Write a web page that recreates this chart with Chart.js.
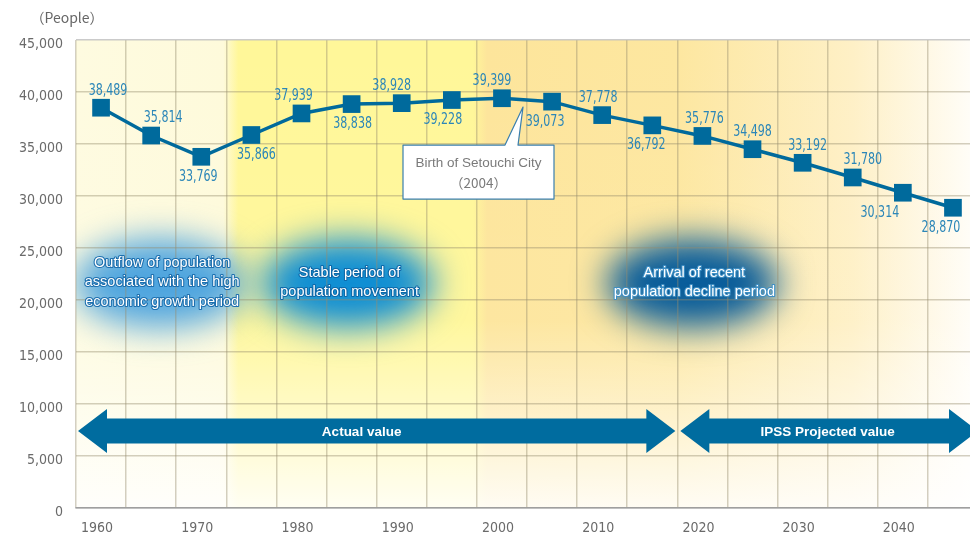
<!DOCTYPE html>
<html><head><meta charset="utf-8">
<script src="https://cdn.jsdelivr.net/npm/chart.js@4"></script>
<style>html,body{margin:0;padding:0;background:#fff;overflow:hidden}#wrap{width:970px;height:540px;position:relative}</style>
</head><body><div id="wrap"><canvas id="c" width="970" height="540"></canvas></div>
<script>
const years = [1960,1965,1970,1975,1980,1985,1990,1995,2000,2005,2010,2015,2020,2025,2030,2035,2040,2045];
const population = [38489,35814,33769,35866,37939,38838,38928,39228,39399,39073,37778,36792,35776,34498,33192,31780,30314,28870];
const yTickValues = [0,5000,10000,15000,20000,25000,30000,35000,40000,45000];
const xTickLabels = [1960,1970,1980,1990,2000,2010,2020,2030,2040];
const labelSide = ['up','up','down','down','up','down','up','down','up','down','up','down','up','up','up','up','down','down'];
const labelShiftX = [7,12,-3,5,-8,1,-10,-9,-10,-7,-4,-6,2,0,5,10,-23,-12];
const periodNotes = [
  {lines:['Outflow of population','associated with the high','economic growth period'], year:1965.9, core:'rgba(70,160,222,0.95)', stroke:'#1d6fae'},
  {lines:['Stable period of','population movement'], year:1984.6, core:'rgba(10,140,212,0.98)', stroke:'#0d68a8'},
  {lines:['Arrival of recent','population decline period'], year:2019.0, core:'rgba(8,92,154,1)', stroke:'#3f8fc4'}
];
const arrowNotes = [
  {text:'Actual value', from:1957.5, to:2017.5, textYear:1986.0},
  {text:'IPSS Projected value', from:2017.5, to:2047.5, textYear:2032.5}
];
const calloutLines = ['Birth of Setouchi City','（2004）'];

const X_MIN = 1957.5, X_MAX = 2046.7;
const NUM_FONT = '"DejaVu Sans Condensed", "Roboto", sans-serif';
const TXT_FONT = '"Liberation Sans", Arial, sans-serif';

const bgPlugin = {
  id:'bg',
  beforeDraw(chart){
    const {ctx, chartArea:a, scales:{x,y}} = chart;
    const W = a.right - a.left, H = a.bottom - a.top;
    const f = p => Math.min(1, Math.max(0, (p - a.left)/W));
    const px = v => x.getPixelForValue(v);
    ctx.save();
    const g = ctx.createLinearGradient(a.left,0,a.right,0);
    g.addColorStop(0,'#fefbe0');
    g.addColorStop(f(px(1972.5)-3),'#fefadb');
    g.addColorStop(f(px(1972.5)+12),'#fff799');
    g.addColorStop(f(px(1997.5)-4),'#fff799');
    g.addColorStop(f(px(1997.5)+10),'#fde59b');
    g.addColorStop(f(px(2017.5)),'#fde7a0');
    g.addColorStop(f(px(2035)),'#fef0c6');
    g.addColorStop(1,'#fffdf7');
    ctx.fillStyle = g;
    ctx.fillRect(a.left,a.top,W,H);
    const v = ctx.createLinearGradient(0,a.top,0,a.bottom);
    v.addColorStop(0,'rgba(255,255,255,0)');
    v.addColorStop(0.6,'rgba(255,255,255,0.05)');
    v.addColorStop(0.82,'rgba(255,255,255,0.5)');
    v.addColorStop(1,'rgba(255,255,255,0.88)');
    ctx.fillStyle = v;
    ctx.fillRect(a.left,a.top,W,H);
    ctx.beginPath(); ctx.rect(a.left,a.top,W,H); ctx.clip();
    const cy = y.getPixelForValue(21600);
    periodNotes.forEach(n=>{
      ctx.save();
      ctx.filter = 'blur(17px)';
      ctx.fillStyle = n.core;
      ctx.beginPath();
      ctx.ellipse(px(n.year), cy, 86, 44, 0, 0, Math.PI*2);
      ctx.fill();
      ctx.restore();
    });
    ctx.restore();
  },
  beforeDatasetsDraw(chart){
    const {ctx, chartArea:a, scales:{x,y}} = chart;
    const px = v => x.getPixelForValue(v);
    ctx.save();
    ctx.textAlign='center'; ctx.textBaseline='middle';
    ctx.font = '14.5px ' + TXT_FONT;
    ctx.lineJoin='round';
    const cy = y.getPixelForValue(21600);
    periodNotes.forEach(n=>{
      const cx = px(n.year) + 2;
      const step = 19.5;
      const y0 = cy - (n.lines.length-1)*step/2 - 1;
      n.lines.forEach((t,i)=>{
        ctx.lineWidth = 2.2; ctx.strokeStyle = n.stroke;
        ctx.strokeText(t, cx, y0 + i*step);
        ctx.fillStyle = '#fff';
        ctx.fillText(t, cx, y0 + i*step);
      });
    });
    const ay = y.getPixelForValue(7400);
    const sh = 12.5, hh = 22, hl = 29;
    ctx.fillStyle = '#006c9f';
    arrowNotes.forEach((n,i)=>{
      const x1 = px(n.from) + (i===0?2:3);
      const x2 = px(n.to) - (i===0?2:0);
      ctx.beginPath();
      ctx.moveTo(x1, ay);
      ctx.lineTo(x1+hl, ay-hh);
      ctx.lineTo(x1+hl, ay-sh);
      ctx.lineTo(x2-hl, ay-sh);
      ctx.lineTo(x2-hl, ay-hh);
      ctx.lineTo(x2, ay);
      ctx.lineTo(x2-hl, ay+hh);
      ctx.lineTo(x2-hl, ay+sh);
      ctx.lineTo(x1+hl, ay+sh);
      ctx.lineTo(x1+hl, ay+hh);
      ctx.closePath();
      ctx.fill();
    });
    ctx.fillStyle = '#fff';
    ctx.font = 'bold 13.5px ' + TXT_FONT;
    arrowNotes.forEach(n=>{ ctx.fillText(n.text, px(n.textYear), ay+1); });
    const tx = px(2002.1), ty = y.getPixelForValue(38550);
    const L = tx-120, R = tx+31, T = ty+38, B = ty+92;
    ctx.beginPath();
    ctx.moveTo(L,T); ctx.lineTo(tx-18,T); ctx.lineTo(tx,ty); ctx.lineTo(tx-5,T);
    ctx.lineTo(R,T); ctx.lineTo(R,B); ctx.lineTo(L,B); ctx.closePath();
    ctx.fillStyle='#fff'; ctx.fill();
    ctx.strokeStyle='#3a7fae'; ctx.lineWidth=1.2; ctx.stroke();
    ctx.fillStyle='#7a7a7a';
    ctx.font = '13.5px ' + TXT_FONT;
    ctx.fillText(calloutLines[0], (L+R)/2, T+18);
    ctx.font = '13.5px "Noto Sans CJK JP", ' + TXT_FONT;
    ctx.fillText(calloutLines[1], (L+R)/2, T+38);
    ctx.restore();
  },
  afterDatasetsDraw(chart){
    const {ctx} = chart;
    const meta = chart.getDatasetMeta(0);
    ctx.save();
    ctx.font = '15px ' + NUM_FONT;
    ctx.fillStyle = '#2b86b8';
    ctx.textAlign='center'; ctx.textBaseline='middle';
    const sx = 0.82;
    meta.data.forEach((pt,i)=>{
      const dy = labelSide[i]==='up' ? -17 : 20;
      ctx.save();
      ctx.translate(pt.x + labelShiftX[i], pt.y + dy);
      ctx.scale(sx,1);
      ctx.fillText(population[i].toLocaleString('en-US'), 0, 0);
      ctx.restore();
    });
    ctx.fillStyle='#666';
    ctx.font = '14px "Noto Sans CJK JP", ' + TXT_FONT;
    ctx.fillText('（People）', 67, 18);
    ctx.restore();
  }
};

const gridColor = 'rgba(150,140,110,0.42)';
new Chart(document.getElementById('c'), {
  type:'line',
  data:{ datasets:[{
    data: years.map((yr,i)=>({x:yr, y:population[i]})),
    borderColor:'#006a9c', backgroundColor:'#006a9c',
    borderWidth:3.5, pointStyle:'rect', pointRadius:12.5, pointHoverRadius:12.5,
    pointBorderWidth:0, pointBackgroundColor:'#006a9c', tension:0, clip:false
  }]},
  options:{
    responsive:false, animation:false, devicePixelRatio:1,
    layout:{autoPadding:false, padding:{top:40,left:0,right:0,bottom:0}},
    plugins:{legend:{display:false}, tooltip:{enabled:false}},
    scales:{
      x:{
        type:'linear', min:X_MIN, max:X_MAX,
        afterBuildTicks(axis){
          const t=[]; for(let v=X_MIN; v<=X_MAX+1e-6; v+=2.5) t.push({value:v});
          axis.ticks=t;
        },
        afterFit(s){ s.height = 32; },
        grid:{ drawTicks:false, lineWidth:1.5,
          color:(c)=>{ const v=c.tick?c.tick.value:0; return (Math.abs(((v-X_MIN)%5))<1e-6)?gridColor:'rgba(0,0,0,0)'; } },
        border:{display:true, color:'rgba(150,150,150,0.7)', width:1.5},
        ticks:{ autoSkip:false, maxRotation:0, padding:12, labelOffset:-4, color:'#6a6a6a',
          font:{family:NUM_FONT, size:14},
          callback:(v)=> xTickLabels.includes(v) ? String(v) : '' }
      },
      y:{
        min:0, max:45000,
        afterBuildTicks(axis){ axis.ticks = yTickValues.map(v=>({value:v})); },
        afterFit(s){ s.width = 76; },
        grid:{ drawTicks:false, lineWidth:1.5,
          color:(c)=> c.tick && c.tick.value===45000 ? 'rgba(190,190,190,0.8)' : (c.tick && c.tick.value===0 ? 'rgba(150,150,150,0.7)' : gridColor) },
        border:{display:false},
        ticks:{ padding:13, labelOffset:4, color:'#6a6a6a', font:{family:NUM_FONT, size:14},
          callback:(v)=> v.toLocaleString('en-US') }
      }
    }
  },
  plugins:[bgPlugin]
});
</script></body></html>
